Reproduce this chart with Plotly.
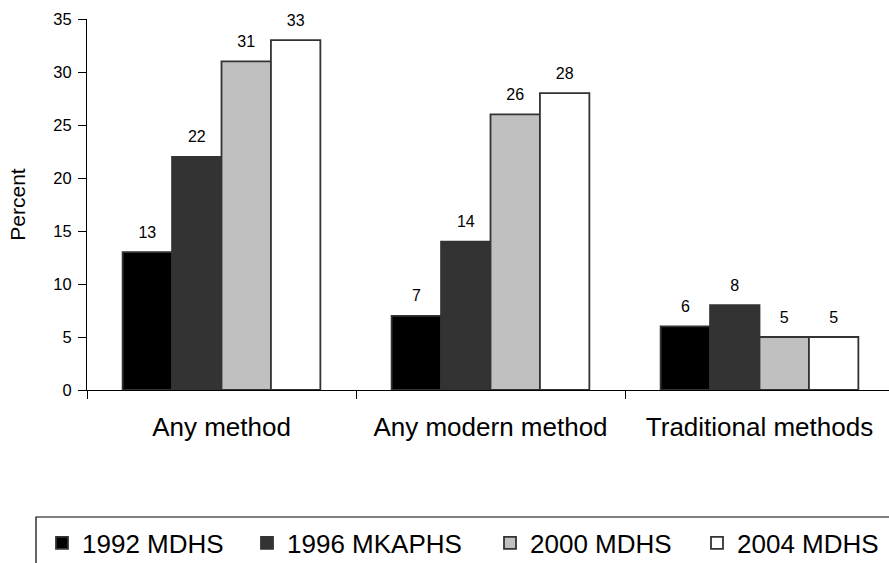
import plotly.graph_objects as go

categories = ["Any method", "Any modern method", "Traditional methods"]
series_names = ["1992 MDHS", "1996 MKAPHS", "2000 MDHS", "2004 MDHS"]
values_1992 = [13, 7, 6]
values_1996 = [22, 14, 8]
values_2000 = [31, 26, 5]
values_2004 = [33, 28, 5]
y_ticks = [0, 5, 10, 15, 20, 25, 30, 35]

all_values = [values_1992, values_1996, values_2000, values_2004]
colors = ["#000000", "#333333", "#c0c0c0", "#ffffff"]
legend_ids = ["legend", "legend2", "legend3", "legend4"]

FONT = "Liberation Sans, Arial, sans-serif"
W, H = 889, 563
ML, MR, MT, MB = 87, 0, 19, 173
PW = W - ML - MR
PH = H - MT - MB
CAT_W = 269

fig = go.Figure()
for name, vals, col, lg in zip(series_names, all_values, colors, legend_ids):
    fig.add_trace(go.Bar(
        x=categories, y=vals, name=name, legend=lg,
        marker=dict(color=col, line=dict(color="#333333", width=1.8)),
        hoverinfo="skip",
    ))
for name, vals in zip(series_names, all_values):
    fig.add_trace(go.Scatter(
        x=categories, y=vals, mode="markers+text", text=[str(v) for v in vals],
        textposition="top center", textfont=dict(size=16, color="#000000", family=FONT),
        marker=dict(size=15, color="rgba(0,0,0,0)"), showlegend=False, hoverinfo="skip",
        cliponaxis=False,
    ))

def px_x(p):
    return (p - ML) / PW

def px_y(p):
    return (H - MB - p) / PH

legend_text_starts = [82, 287, 530, 737]
layout_legends = {}
for lg, ts in zip(legend_ids, legend_text_starts):
    layout_legends[lg] = dict(
        x=px_x(ts - 40), xanchor="left", y=px_y(543), yanchor="middle",
        orientation="h", bgcolor="rgba(0,0,0,0)", borderwidth=0,
        font=dict(size=26, color="#000000", family=FONT),
    )

fig.update_layout(
    width=W, height=H,
    margin=dict(l=ML, r=MR, t=MT, b=MB, autoexpand=False),
    paper_bgcolor="white", plot_bgcolor="white",
    barmode="group", bargap=0.265, bargroupgap=0,
    scattermode="group", scattergap=0.265,
    font=dict(family=FONT, color="#000000"),
    showlegend=True,
    **layout_legends,
    xaxis=dict(
        range=[-0.5, -0.5 + PW / CAT_W], showline=True, linecolor="#000000", linewidth=1,
        ticks="outside", ticklen=8, tickcolor="#000000", tickson="boundaries",
        tickfont=dict(size=26, family=FONT, color="#000000"), ticklabelstandoff=14,
        showgrid=False, zeroline=False, fixedrange=True,
    ),
    yaxis=dict(
        range=[0, 35], tickvals=y_ticks, showline=True, linecolor="#000000", linewidth=1,
        ticks="outside", ticklen=8, tickcolor="#000000",
        tickfont=dict(size=16.5, family=FONT, color="#000000"), ticklabelstandoff=3,
        title=dict(text="Percent", font=dict(size=21, family=FONT, color="#000000"), standoff=21),
        showgrid=False, zeroline=False, fixedrange=True,
    ),
    shapes=[dict(
        type="rect", xref="paper", yref="paper",
        x0=px_x(36), x1=px_x(W + 20), y0=px_y(517), y1=px_y(H + 20),
        line=dict(color="#000000", width=1.2), fillcolor="rgba(0,0,0,0)", layer="above",
    )],
)

fig.write_html(
    "out.html",
    config={"displayModeBar": False},
    post_script="document.body.style.margin='0';document.body.style.overflow='hidden';",
)
